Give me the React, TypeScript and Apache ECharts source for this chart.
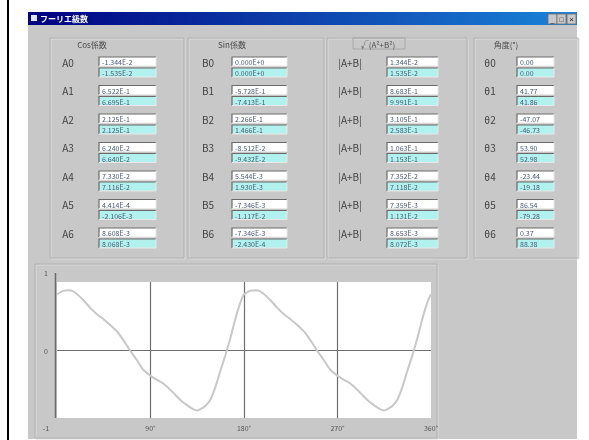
import React, { useEffect, useRef } from "react";
import * as echarts from "echarts";

const titleText = "フーリエ級数";
const groupHeaders = ["Cos係数", "Sin係数", "√(A²+B²)", "角度(°)"];
const cosLabels = ["A0", "A1", "A2", "A3", "A4", "A5", "A6"];
const sinLabels = ["B0", "B1", "B2", "B3", "B4", "B5", "B6"];
const magLabels = ["|A+B|", "|A+B|", "|A+B|", "|A+B|", "|A+B|", "|A+B|", "|A+B|"];
const angLabels = ["θ0", "θ1", "θ2", "θ3", "θ4", "θ5", "θ6"];

const cosTop = ["-1.344E-2", "6.522E-1", "2.125E-1", "6.240E-2", "7.330E-2", "4.414E-4", "8.608E-3"];
const cosBot = ["-1.535E-2", "6.695E-1", "2.125E-1", "6.640E-2", "7.116E-2", "-2.106E-3", "8.068E-3"];
const sinTop = ["0.000E+0", "-5.728E-1", "2.266E-1", "-8.512E-2", "5.544E-3", "-7.346E-3", "-7.346E-3"];
const sinBot = ["0.000E+0", "-7.413E-1", "1.466E-1", "-9.432E-2", "1.930E-3", "-1.117E-2", "-2.430E-4"];
const magTop = ["1.344E-2", "8.683E-1", "3.105E-1", "1.063E-1", "7.352E-2", "7.359E-3", "8.653E-3"];
const magBot = ["1.535E-2", "9.991E-1", "2.583E-1", "1.153E-1", "7.118E-2", "1.131E-2", "8.072E-3"];
const angTop = ["0.00", "41.77", "-47.07", "53.90", "-23.44", "86.54", "0.37"];
const angBot = ["0.00", "41.86", "-46.73", "52.98", "-19.18", "-79.28", "88.38"];

const xTickLabels = ["", "90°", "180°", "270°", "360°"];
const yTickLabels = ["1", "0", "-1"];

const wave: [number, number][] = [
  [0, 0.82], [6, 0.87], [12, 0.88], [17, 0.85], [25, 0.74], [32, 0.62], [39, 0.52], [45, 0.45],
  [51, 0.37], [59, 0.25], [65, 0.12], [70, 0.0], [77, -0.15], [83, -0.29], [93, -0.41], [100, -0.47],
  [106, -0.54], [112, -0.63], [119, -0.74], [125, -0.81], [131, -0.87], [135, -0.89], [138, -0.87],
  [143, -0.82], [148, -0.72], [153, -0.52], [157, -0.32], [162, -0.08], [167, 0.18], [171, 0.42],
  [175, 0.63], [178, 0.76], [180, 0.82],
  [186, 0.87], [192, 0.88], [197, 0.85], [205, 0.74], [212, 0.62], [219, 0.52], [225, 0.45],
  [231, 0.37], [239, 0.25], [245, 0.12], [250, 0.0], [257, -0.15], [263, -0.29], [273, -0.41], [280, -0.47],
  [286, -0.54], [292, -0.63], [299, -0.74], [305, -0.81], [311, -0.87], [315, -0.89], [318, -0.87],
  [323, -0.82], [328, -0.72], [333, -0.52], [337, -0.32], [342, -0.08], [347, 0.18], [351, 0.42],
  [355, 0.63], [358, 0.76], [360, 0.82],
];

const FONT = "'Noto Sans CJK JP', 'Liberation Sans', sans-serif";

function etchedBox(x: number, y: number, w: number, h: number): any[] {
  return [
    { type: "rect", shape: { x: x + 1, y: y + 1, width: w, height: h }, style: { fill: "none", stroke: "#dcdcdc", lineWidth: 1 }, silent: true },
    { type: "rect", shape: { x, y, width: w, height: h }, style: { fill: "none", stroke: "#b2b2b2", lineWidth: 1 }, silent: true },
  ];
}

function field(x: number, y: number, w: number, h: number, fill: string, text: string): any[] {
  return [
    { type: "rect", shape: { x, y, width: w, height: h }, style: { fill, stroke: null } },
    { type: "polyline", shape: { points: [[x, y + h], [x, y], [x + w, y]] }, style: { stroke: "#6a6a6a", lineWidth: 1.2, fill: null } },
    { type: "polyline", shape: { points: [[x + w, y], [x + w, y + h], [x, y + h]] }, style: { stroke: "#e8e8e8", lineWidth: 1, fill: null } },
    { type: "text", x: x + 3, y: y + h / 2 + 0.5, style: { text, fill: "#4a5a78", fontSize: 7, fontFamily: FONT, verticalAlign: "middle", align: "left" } },
  ];
}

export default function App() {
  const ref = useRef<HTMLDivElement>(null);
  useEffect(() => {
    if (!ref.current) return;
    const chart = echarts.init(ref.current, undefined, { renderer: "svg" });
    const g: any[] = [];
    g.push({ type: "rect", shape: { x: 0, y: 0, width: 589, height: 440 }, style: { fill: "#ffffff" }, silent: true });
    g.push({ type: "rect", shape: { x: 7, y: 0, width: 2, height: 440 }, style: { fill: "#000000" }, silent: true });
    g.push({ type: "rect", shape: { x: 28, y: 12, width: 549, height: 427 }, style: { fill: "#c8c8c8" }, silent: true });
    g.push({
      type: "rect", shape: { x: 28, y: 12, width: 549, height: 13 },
      style: { fill: new echarts.graphic.LinearGradient(0, 0, 1, 0, [{ offset: 0, color: "#000080" }, { offset: 1, color: "#1a84d8" }]) },
    });
    g.push({ type: "rect", shape: { x: 31, y: 15, width: 6, height: 6 }, style: { fill: "#dfe6f5" } });
    g.push({ type: "text", x: 40, y: 18.5, style: { text: titleText, fill: "#ffffff", fontSize: 8, fontWeight: "bold", fontFamily: FONT, verticalAlign: "middle" } });
    [548, 557, 567].forEach((bx) => {
      g.push({ type: "rect", shape: { x: bx, y: 14, width: 9, height: 10 }, style: { fill: "#c8c8c8", stroke: "#707070", lineWidth: 0.8 } });
    });
    g.push({ type: "text", x: 552.5, y: 19, style: { text: "_", fill: "#222", fontSize: 7, align: "center", verticalAlign: "middle" } });
    g.push({ type: "text", x: 561.5, y: 19, style: { text: "□", fill: "#222", fontSize: 7, align: "center", verticalAlign: "middle" } });
    g.push({ type: "text", x: 571.5, y: 19, style: { text: "×", fill: "#222", fontSize: 8, align: "center", verticalAlign: "middle" } });

    g.push(...etchedBox(50, 38, 134, 220));
    g.push(...etchedBox(188, 38, 136, 220));
    g.push(...etchedBox(327, 38, 140, 220));
    g.push(...etchedBox(474, 38, 104, 220));
    g.push(...etchedBox(35, 264, 402, 174));

    const headerX = [92, 232, 378, 506];
    groupHeaders.forEach((h, i) => {
      g.push({ type: "text", x: headerX[i], y: 44, style: { text: h, fill: "#4a4a4a", fontSize: 8, fontFamily: FONT, align: "center", verticalAlign: "middle" } });
    });
    g.push({ type: "rect", shape: { x: 353, y: 38, width: 52, height: 11 }, style: { fill: "none", stroke: "#a0a0a0", lineWidth: 0.8 } });

    const cols = [
      { labels: cosLabels, top: cosTop, bot: cosBot, lx: 68, fx: 99, fw: 57 },
      { labels: sinLabels, top: sinTop, bot: sinBot, lx: 208, fx: 232, fw: 55 },
      { labels: magLabels, top: magTop, bot: magBot, lx: 350, fx: 387, fw: 51 },
      { labels: angLabels, top: angTop, bot: angBot, lx: 490, fx: 517, fw: 37 },
    ];
    cols.forEach((c) => {
      c.labels.forEach((lab, i) => {
        const ry = 62 + i * 28.5;
        g.push({ type: "text", x: c.lx, y: ry, style: { text: lab, fill: "#444", fontSize: 10, fontFamily: FONT, align: "center", verticalAlign: "middle" } });
        g.push(...field(c.fx, ry - 5, c.fw, 9, "#ffffff", c.top[i]));
        g.push(...field(c.fx, ry + 6, c.fw, 9, "#b2f2ee", c.bot[i]));
      });
    });

    g.push({ type: "line", z: 10, shape: { x1: 55.5, y1: 273, x2: 55.5, y2: 418 }, style: { stroke: "#6a6a6a", lineWidth: 1.5 } });
    const yPos = [273, 351, 428];
    yTickLabels.forEach((t, i) => {
      g.push({ type: "text", z: 10, x: 46, y: yPos[i], style: { text: t, fill: "#555", fontSize: 7, fontFamily: FONT, align: "center", verticalAlign: "middle" } });
    });

    const option: any = {
      animation: false,
      graphic: { elements: g },
      grid: { left: 57, top: 282, width: 374, height: 136, show: true, backgroundColor: "#ffffff", borderWidth: 0, z: 5 },
      xAxis: {
        type: "value", min: 0, max: 360, interval: 90, z: 6,
        axisLine: { show: false }, axisTick: { show: false },
        splitLine: { show: true, lineStyle: { color: ["rgba(0,0,0,0)", "#6e6e6e", "#6e6e6e", "#6e6e6e", "rgba(0,0,0,0)"], width: 1.2 } },
        axisLabel: {
          margin: 6, fontSize: 7, color: "#555", fontFamily: FONT,
          formatter: (v: number) => xTickLabels[Math.round(v / 90)] ?? "",
        },
      },
      yAxis: {
        type: "value", min: -1, max: 1, interval: 1, z: 6,
        axisLine: { show: false }, axisTick: { show: false }, axisLabel: { show: false },
        splitLine: { show: true, lineStyle: { color: ["rgba(0,0,0,0)", "#6e6e6e", "rgba(0,0,0,0)"], width: 1.2 } },
      },
      series: [
        {
          type: "line", data: wave, smooth: 0.2, showSymbol: false, z: 7,
          lineStyle: { color: "#c8c8c8", width: 2 },
        },
      ],
    };
    chart.setOption(option);
    return () => chart.dispose();
  }, []);
  return <div ref={ref} style={{ position: "fixed", left: 0, top: 0, width: 589, height: 440 }} />;
}
